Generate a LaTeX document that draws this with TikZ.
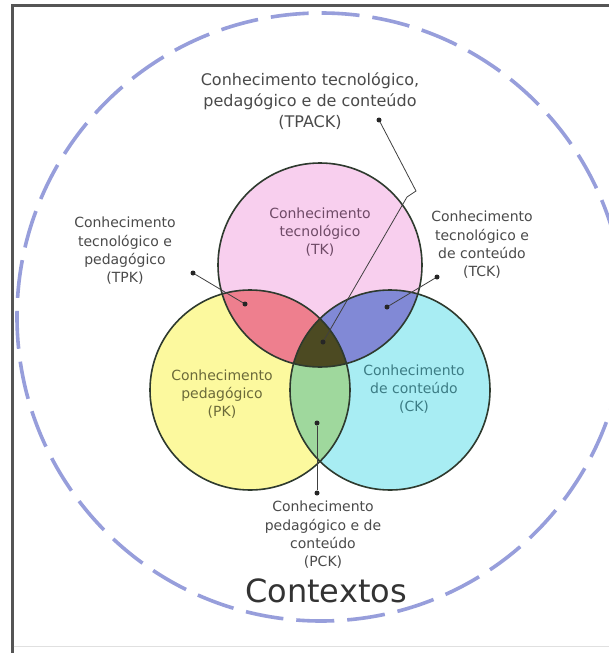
\documentclass[tikz,border=0pt]{standalone}
\usepackage{fontspec}
\setmainfont{DejaVu Sans}
\definecolor{pinkc}{HTML}{F8CFEE}
\definecolor{yelc}{HTML}{FCF99E}
\definecolor{cyanc}{HTML}{A8EDF3}
\definecolor{tpkc}{HTML}{EE7F8E}
\definecolor{tckc}{HTML}{8189D6}
\definecolor{pckc}{HTML}{9FD89D}
\definecolor{tpackc}{HTML}{4C4A22}
\definecolor{outl}{HTML}{2E3A2E}
\definecolor{dashc}{HTML}{979EDB}
\definecolor{labc}{HTML}{4A4A4A}
\definecolor{tkt}{HTML}{6E4A66}
\definecolor{pkt}{HTML}{6B6A3A}
\definecolor{ckt}{HTML}{3C7C84}
\definecolor{framec}{HTML}{555555}
\tikzset{
  dotnode/.style={circle,fill=black!85,inner sep=0pt,minimum size=5pt},
  conn/.style={draw=black!75,line width=0.8pt},
  outlab/.style={align=center,inner sep=0pt,text=labc,font=\fontsize{14}{18.3}\selectfont},
  inlab/.style={align=center,inner sep=0pt,font=\fontsize{14}{18.3}\selectfont},
}
\begin{document}
\begin{tikzpicture}[x=1pt,y=-1pt]
\useasboundingbox (0,0) rectangle (609,653);
\fill[white] (0,0) rectangle (609,653);
% frame
\draw[framec,line width=3pt] (12,653) -- (12,5) -- (609,5);
\draw[black!12,line width=1pt] (13.5,646) -- (609,646);
% outer dashed context circle
\coordinate (O) at (321,317);
\draw[dashc,line width=3.6pt,dash pattern=on 38pt off 13pt,dash phase=20pt] (O) circle[radius=304pt];
% Venn centres
\coordinate (T) at (320,265);
\coordinate (P) at (250,390);
\coordinate (C) at (390,390);
\fill[pinkc] (T) circle[radius=102pt];
\fill[yelc] (P) circle[radius=100pt];
\fill[cyanc] (C) circle[radius=100pt];
\begin{scope}\clip (T) circle[radius=102pt]; \fill[tpkc] (P) circle[radius=100pt];\end{scope}
\begin{scope}\clip (T) circle[radius=102pt]; \fill[tckc] (C) circle[radius=100pt];\end{scope}
\begin{scope}\clip (P) circle[radius=100pt]; \fill[pckc] (C) circle[radius=100pt];\end{scope}
\begin{scope}\clip (T) circle[radius=102pt]; \clip (P) circle[radius=100pt]; \fill[tpackc] (C) circle[radius=100pt];\end{scope}
\draw[outl,line width=1.6pt] (T) circle[radius=102pt];
\draw[outl,line width=1.6pt] (P) circle[radius=100pt];
\draw[outl,line width=1.6pt] (C) circle[radius=100pt];
% inner labels
\node[inlab,text=tkt] (tk) at (320,232) {Conhecimento\\tecnológico\\(TK)};
\node[inlab,text=pkt] (pk) at (222,394) {Conhecimento\\pedagógico\\(PK)};
\node[inlab,text=ckt] (ck) at (414,389) {Conhecimento\\de conteúdo\\(CK)};
% outer labels
\node[align=center,inner sep=0pt,text=labc,font=\fontsize{16}{21}\selectfont] (tpack) at (310,101) {Conhecimento tecnológico,\\pedagógico e de conteúdo\\(TPACK)};
\node[outlab] (tpk) at (125,251) {Conhecimento\\tecnológico e\\pedagógico\\(TPK)};
\node[outlab] (tck) at (482,245) {Conhecimento\\tecnológico e\\de conteúdo\\(TCK)};
\node[outlab] (pck) at (323,535) {Conhecimento\\pedagógico e de\\conteúdo\\(PCK)};
\node[inner sep=0pt,text=black!80,font=\fontsize{32}{36}\selectfont] (ctx) at (326,591) {Contextos};
% dots
\node[dotnode] (a1) at (379,120) {};
\node[dotnode] (a2) at (323,342) {};
\coordinate (b1) at (416,191);
\coordinate (b2) at (407,197);
\node[dotnode] (t1) at (193,273) {};
\node[dotnode] (t2) at (245,304) {};
\node[dotnode] (c1) at (437,277) {};
\node[dotnode] (c2) at (387,307) {};
\node[dotnode] (p1) at (317,493) {};
\node[dotnode] (p2) at (317,423) {};
\draw[conn] (a1) -- (b1) -- (b2) -- (a2);
\draw[conn] (t1) -- (t2);
\draw[conn] (c1) -- (c2);
\draw[conn] (p1) -- (p2);
\end{tikzpicture}
\end{document}
